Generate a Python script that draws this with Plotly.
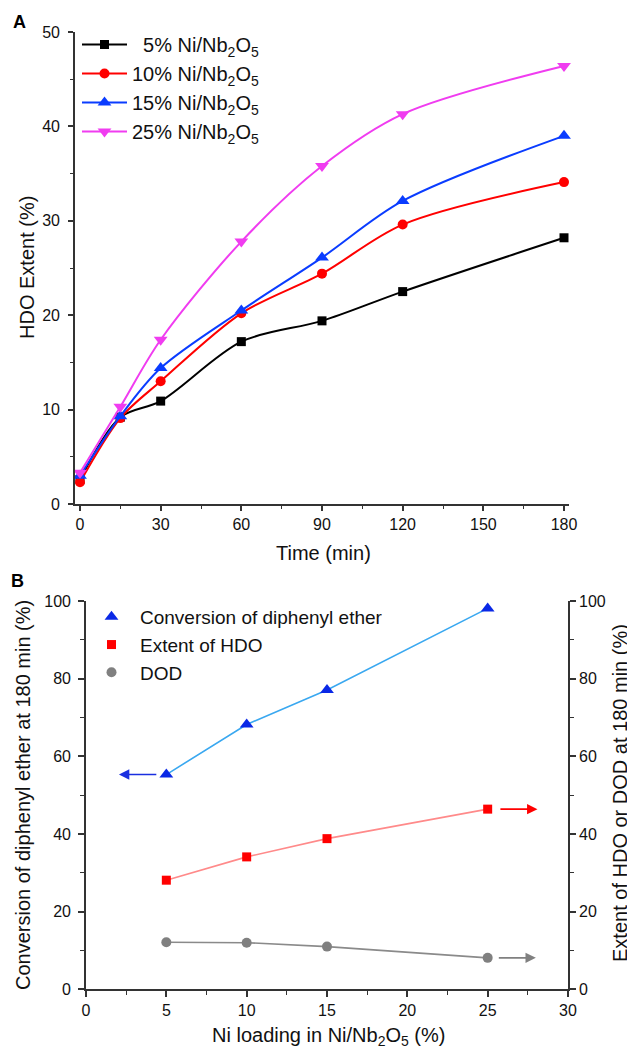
import plotly.graph_objects as go

# ---------------- Data ----------------
time_min = [0, 15, 30, 60, 90, 120, 180]
hdo_5 = [2.6, 9.2, 10.9, 17.2, 19.4, 22.5, 28.2]
hdo_10 = [2.3, 9.1, 13.0, 20.2, 24.4, 29.6, 34.1]
hdo_15 = [3.0, 9.3, 14.4, 20.5, 26.1, 32.1, 39.0]
hdo_25 = [3.3, 10.3, 17.4, 27.8, 35.8, 41.3, 46.4]
series_a_names = ["\u20075% Ni/Nb<sub>2</sub>O<sub>5</sub>", "10% Ni/Nb<sub>2</sub>O<sub>5</sub>",
                  "15% Ni/Nb<sub>2</sub>O<sub>5</sub>", "25% Ni/Nb<sub>2</sub>O<sub>5</sub>"]

ni_loading = [5, 10, 15, 25]
conversion_dpe = [55.3, 68.2, 77.1, 98.1]
extent_hdo = [28.1, 34.1, 38.8, 46.4]
dod = [12.1, 12.0, 11.0, 8.1]
series_b_names = ["Conversion of diphenyl ether", "Extent of HDO", "DOD"]

W, H = 635, 1049
OFF = 8  # page body margin offset in the screenshot
ML, MR, MT, MB = 10, 10, 20, 10
PW, PH = W - ML - MR, H - MT - MB
def px(x): return (x - OFF - ML) / PW
def py(y): return 1 - (y - OFF - MT) / PH

FONT = "Liberation Sans, Arial, sans-serif"
AX = "#333333"

fig = go.Figure()

# ---------------- Panel A ----------------
a_styles = [
    ("#000000", "square", 9),
    ("#ff0000", "circle", 10),
    ("#0a3cff", "triangle-up", 12),
    ("#f03cf0", "triangle-down", 12),
]
for name, ys, (col, sym, sz) in zip(series_a_names, [hdo_5, hdo_10, hdo_15, hdo_25], a_styles):
    fig.add_trace(go.Scatter(
        x=time_min, y=ys, name=name, mode="lines+markers",
        line=dict(color=col, width=2, shape="spline", smoothing=0.9),
        marker=dict(color=col, symbol=sym, size=sz),
        xaxis="x", yaxis="y", legend="legend", cliponaxis=False))

# ---------------- Panel B ----------------
b_styles = [
    (conversion_dpe, "#0a28e6", "#3aa8f0", "triangle-up", 12, "y2"),
    (extent_hdo, "#ff0000", "#ff8a8a", "square", 9, "y3"),
    (dod, "#808080", "#8a8a8a", "circle", 10, "y3"),
]
for name, (ys, mcol, lcol, sym, sz, yax) in zip(series_b_names, b_styles):
    fig.add_trace(go.Scatter(
        x=ni_loading, y=ys, mode="lines", line=dict(color=lcol, width=1.6),
        showlegend=False, xaxis="x2", yaxis=yax, hoverinfo="skip"))
for name, (ys, mcol, lcol, sym, sz, yax) in zip(series_b_names, b_styles):
    fig.add_trace(go.Scatter(
        x=ni_loading, y=ys, name=name, mode="markers",
        marker=dict(color=mcol, symbol=sym, size=sz),
        xaxis="x2", yaxis=yax, legend="legend2", cliponaxis=False))

common_axis = dict(showline=True, linecolor=AX, linewidth=1.6, ticks="outside",
                   tickcolor=AX, tickwidth=1.5, showgrid=False, zeroline=False,
                   automargin=False,
                   tickfont=dict(size=16, color="#111", family=FONT), mirror=False)

fig.update_layout(
    width=W, height=H, margin=dict(l=ML, r=MR, t=MT, b=MB, autoexpand=False),
    plot_bgcolor="white", paper_bgcolor="white",
    font=dict(family=FONT, size=20, color="#111"),
    xaxis=dict(domain=[px(75), px(569)], range=[-1.86, 181.86], anchor="y",
               tickmode="linear", tick0=0, dtick=30, ticklen=5,
               minor=dict(ticks="outside", tick0=0, dtick=15, ticklen=3, tickcolor=AX, tickwidth=1.2),
               **common_axis),
    yaxis=dict(domain=[py(504), py(32)], range=[0, 50], anchor="x",
               tickmode="linear", tick0=0, dtick=10, ticklen=5, ticklabelstandoff=5,
               minor=dict(ticks="outside", tick0=0, dtick=5, ticklen=3, tickcolor=AX, tickwidth=1.2),
               **common_axis),
    xaxis2=dict(domain=[px(86), px(568)], range=[0, 30], anchor="y2",
                tickmode="linear", tick0=0, dtick=5, ticklen=6,
                minor=dict(ticks="outside", tick0=0, dtick=2.5, ticklen=4, tickcolor=AX, tickwidth=1.2),
                **common_axis),
    yaxis2=dict(domain=[py(989.3), py(601)], range=[0, 100], anchor="x2",
                tickmode="linear", tick0=0, dtick=20, ticklen=6, ticklabelstandoff=4,
                minor=dict(ticks="outside", tick0=0, dtick=10, ticklen=4, tickcolor=AX, tickwidth=1.2),
                **common_axis),
    yaxis3=dict(range=[0, 100], anchor="x2", overlaying="y2", side="right",
                tickmode="linear", tick0=0, dtick=20, ticklen=6,
                minor=dict(ticks="outside", tick0=0, dtick=10, ticklen=4, tickcolor=AX, tickwidth=1.2),
                **common_axis),
    legend=dict(x=px(77), y=py(25), xanchor="left", yanchor="top",
                bgcolor="rgba(0,0,0,0)", font=dict(size=20, family=FONT, color="#111"),
                tracegroupgap=0, traceorder="normal", itemwidth=45),
    legend2=dict(x=px(83), y=py(598), xanchor="left", yanchor="top",
                 bgcolor="rgba(0,0,0,0)", font=dict(size=19, family=FONT, color="#111"),
                 tracegroupgap=0, traceorder="normal", itemwidth=47),
)

def label(text, x, y, size=20, angle=0, color="#111"):
    return dict(text=text, x=px(x), y=py(y), xref="paper", yref="paper",
                xanchor="center", yanchor="middle", showarrow=False, textangle=angle,
                font=dict(size=size, family=FONT, color=color))

ann = [
    label("<b>A</b>", 19, 22, size=18, color="#000"),
    label("<b>B</b>", 17, 581, size=18, color="#000"),
    label("HDO Extent (%)", 27, 268, angle=-90),
    label("Time (min)", 323, 553),
    label("Conversion of diphenyl ether at 180 min (%)", 23, 795, angle=-90),
    label("Extent of HDO or DOD at 180 min (%)", 620, 793, angle=-90),
    label("Ni loading in Ni/Nb<sub>2</sub>O<sub>5</sub> (%)", 328, 1036),
]

# arrows indicating which axis each series belongs to
arrows = [
    (2.05, 4.47, conversion_dpe[0], "x2", "y2", "#1a2fe0"),
    (28.1, 25.7, extent_hdo[-1], "x2", "y3", "#ff0000"),
    (28.0, 25.6, dod[-1], "x2", "y3", "#808080"),
]
for xt, xs, yv, xr, yr, col in arrows:
    ann.append(dict(x=xt, y=yv, ax=xs, ay=yv, xref=xr, yref=yr, axref=xr, ayref=yr,
                    text="", showarrow=True, arrowhead=2, arrowsize=1.3, arrowwidth=1.6,
                    arrowcolor=col))
fig.update_layout(annotations=ann)

fig.write_html("out.html")
